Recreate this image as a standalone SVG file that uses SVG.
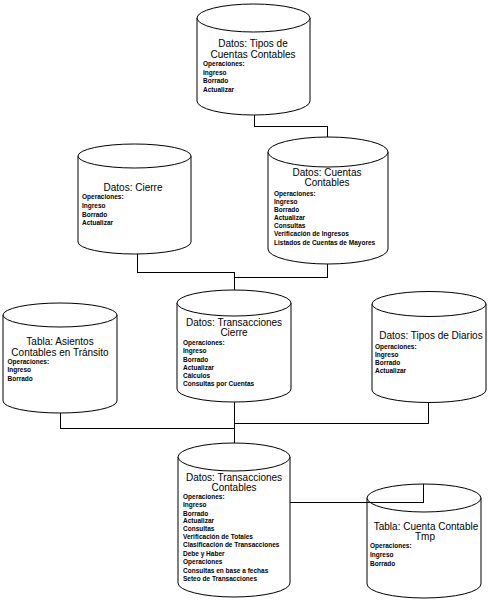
<svg xmlns="http://www.w3.org/2000/svg" width="488" height="600" viewBox="0 0 488 600">
<style>
.cyl{fill:#fff;stroke:#000;stroke-width:1}
.t{font-family:"Liberation Sans",Arial,sans-serif;font-size:10px;fill:#000;text-anchor:middle}
.s{font-family:"Liberation Sans",Arial,sans-serif;font-size:6.5px;font-weight:bold;fill:#000}
.c{fill:none;stroke:#000;stroke-width:1;shape-rendering:crispEdges}
</style>
<rect width="488" height="600" fill="#fff"/>
<g id="tipos-cuentas">
<path class="cyl" d="M197 18 V101 A56.5 14 0 0 0 310 101 V18"/>
<ellipse class="cyl" cx="253.5" cy="18" rx="56.5" ry="14"/>
<text class="t" x="253" y="47">Datos: Tipos de</text>
<text class="t" x="253" y="58">Cuentas Contables</text>
<text class="s" x="203" y="65.5">Operaciones:</text>
<text class="s" x="203" y="75">Ingreso</text>
<text class="s" x="203" y="83.3">Borrado</text>
<text class="s" x="203" y="91.6">Actualizar</text>
</g>
<g id="cierre">
<path class="cyl" d="M78 156 V242 A56.5 12 0 0 0 191 242 V156"/>
<ellipse class="cyl" cx="134.5" cy="156" rx="56.5" ry="12"/>
<text class="t" x="133" y="191.2">Datos: Cierre</text>
<text class="s" x="82" y="199">Operaciones:</text>
<text class="s" x="82" y="208">Ingreso</text>
<text class="s" x="82" y="216.6">Borrado</text>
<text class="s" x="82" y="224.6">Actualizar</text>
</g>
<g id="cuentas-contables">
<path class="cyl" d="M268 152 V249 A60 15 0 0 0 388 249 V152"/>
<ellipse class="cyl" cx="328" cy="152" rx="60" ry="15"/>
<text class="t" x="327" y="176.2">Datos: Cuentas</text>
<text class="t" x="327" y="186.2">Contables</text>
<text class="s" x="274" y="195.6">Operaciones:</text>
<text class="s" x="274" y="203.6">Ingreso</text>
<text class="s" x="274" y="211.6">Borrado</text>
<text class="s" x="274" y="220">Actualizar</text>
<text class="s" x="274" y="228.3">Consultas</text>
<text class="s" x="274" y="236.3">Verificación de Ingresos</text>
<text class="s" x="274" y="244.6">Listados de Cuentas de Mayores</text>
</g>
<g id="asientos-transito">
<path class="cyl" d="M3 315 V401 A57 12 0 0 0 117 401 V315"/>
<ellipse class="cyl" cx="60" cy="315" rx="57" ry="12"/>
<text class="t" x="60" y="345.2">Tabla: Asientos</text>
<text class="t" x="60" y="355.8">Contables en Tránsito</text>
<text class="s" x="7.5" y="364">Operaciones:</text>
<text class="s" x="7.5" y="372.3">Ingreso</text>
<text class="s" x="7.5" y="381">Borrado</text>
</g>
<g id="transacciones-cierre">
<path class="cyl" d="M177 303 V389 A57 13 0 0 0 291 389 V303"/>
<ellipse class="cyl" cx="234" cy="303" rx="57" ry="13"/>
<text class="t" x="234" y="326.2">Datos: Transacciones</text>
<text class="t" x="234" y="336.2">Cierre</text>
<text class="s" x="183" y="345">Operaciones:</text>
<text class="s" x="183" y="353.3">Ingreso</text>
<text class="s" x="183" y="361.6">Borrado</text>
<text class="s" x="183" y="369.6">Actualizar</text>
<text class="s" x="183" y="378">Cálculos</text>
<text class="s" x="183" y="385.6">Consultas por Cuentas</text>
</g>
<g id="tipos-diarios">
<path class="cyl" d="M372 304 V390 A57 12.5 0 0 0 486 390 V304"/>
<ellipse class="cyl" cx="429" cy="304" rx="57" ry="12.5"/>
<text class="t" x="431" y="339.2">Datos: Tipos de Diarios</text>
<text class="s" x="375" y="349">Operaciones:</text>
<text class="s" x="375" y="356.6">Ingreso</text>
<text class="s" x="375" y="365">Borrado</text>
<text class="s" x="375" y="373">Actualizar</text>
</g>
<g id="transacciones-contables">
<path class="cyl" d="M178 457 V583 A56 14 0 0 0 290 583 V457"/>
<ellipse class="cyl" cx="234" cy="457" rx="56" ry="14"/>
<text class="t" x="234" y="480.8">Datos: Transacciones</text>
<text class="t" x="234" y="490.8">Contables</text>
<text class="s" x="183" y="499">Operaciones:</text>
<text class="s" x="183" y="507.3">Ingreso</text>
<text class="s" x="183" y="515.6">Borrado</text>
<text class="s" x="183" y="523">Actualizar</text>
<text class="s" x="183" y="531.3">Consultas</text>
<text class="s" x="183" y="539.3">Verificación de Totales</text>
<text class="s" x="183" y="547.3">Clasificación de Transacciones</text>
<text class="s" x="183" y="556">Debe y Haber</text>
<text class="s" x="183" y="564">Operaciones</text>
<text class="s" x="183" y="572.6">Consultas en base a fechas</text>
<text class="s" x="183" y="581.3">Seteo de Transacciones</text>
</g>
<g id="cuenta-contable-tmp">
<path class="cyl" d="M367 498 V584 A57 14 0 0 0 481 584 V498"/>
<ellipse class="cyl" cx="424" cy="498" rx="57" ry="14"/>
<text class="t" x="426" y="530.2">Tabla: Cuenta Contable</text>
<text class="t" x="425" y="540.2">Tmp</text>
<text class="s" x="370" y="548">Operaciones:</text>
<text class="s" x="370" y="556.6">Ingreso</text>
<text class="s" x="370" y="565.6">Borrado</text>
</g>
<g id="connectors">
<path class="c" d="M254 115 V126 H327 V137"/>
<path class="c" d="M137 254 V272 H234 V290"/>
<path class="c" d="M327 264 V277 H234"/>
<path class="c" d="M60 413 V428 H234"/>
<path class="c" d="M234 402 V443"/>
<path class="c" d="M428 402.5 V423 H234"/>
<path class="c" d="M290 502 H423 V484"/>
</g>
</svg>
